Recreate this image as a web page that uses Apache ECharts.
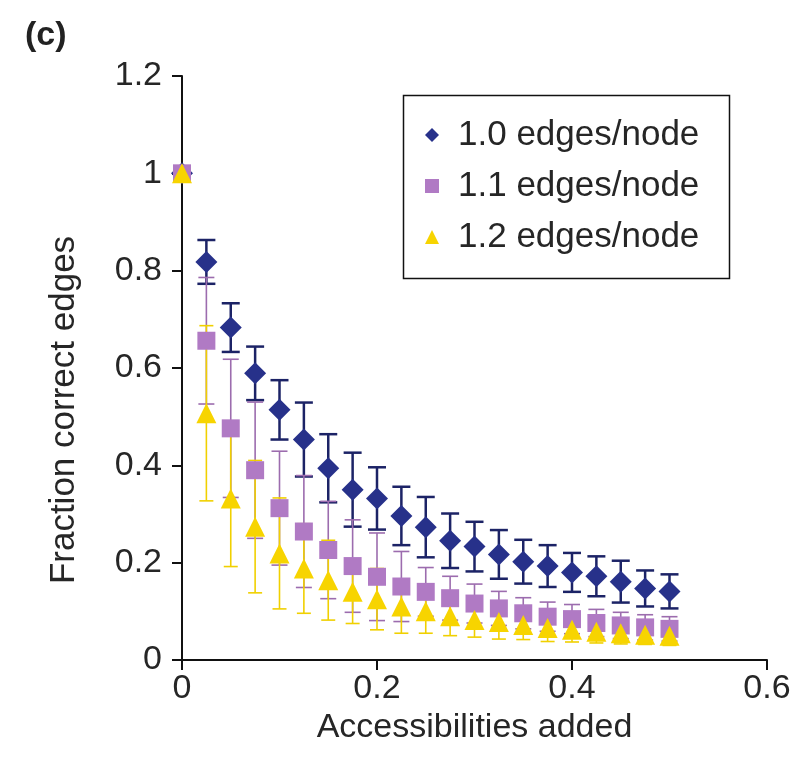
<!DOCTYPE html>
<html>
<head>
<meta charset="utf-8">
<script src="https://cdn.jsdelivr.net/npm/echarts@6/dist/echarts.min.js"></script>
<style>
  html, body { margin: 0; padding: 0; background: #fff; }
  #chart { width: 809px; height: 761px; }
</style>
</head>
<body>
<div id="chart"></div>
<script>
// accessibilities added (x)
var xValues = [0, 0.025, 0.05, 0.075, 0.1, 0.125, 0.15, 0.175, 0.2, 0.225, 0.25,
  0.275, 0.3, 0.325, 0.35, 0.375, 0.4, 0.425, 0.45, 0.475, 0.5]

// fraction correct edges, mean and error
var blueMean = [1.0, 0.818, 0.683, 0.589, 0.514, 0.453, 0.394, 0.35, 0.332, 0.296, 0.273,
  0.245, 0.233, 0.217, 0.202, 0.193, 0.18, 0.172, 0.161, 0.147, 0.141]
var blueErr = [0, 0.045, 0.05, 0.055, 0.061, 0.076, 0.07, 0.076, 0.064, 0.06, 0.062,
  0.056, 0.051, 0.05, 0.045, 0.043, 0.04, 0.041, 0.043, 0.037, 0.035]

var purpleMean = [1.0, 0.656, 0.476, 0.39, 0.312, 0.264, 0.226, 0.193, 0.171, 0.151, 0.14,
  0.127, 0.116, 0.106, 0.096, 0.089, 0.084, 0.076, 0.071, 0.067, 0.064]
var purpleErr = [0, 0.13, 0.142, 0.14, 0.117, 0.115, 0.1, 0.095, 0.09, 0.072, 0.05,
  0.045, 0.04, 0.035, 0.032, 0.03, 0.03, 0.028, 0.027, 0.026, 0.025]

var yellowMean = [1.0, 0.507, 0.332, 0.274, 0.219, 0.188, 0.164, 0.14, 0.125, 0.11, 0.1,
  0.09, 0.082, 0.078, 0.072, 0.066, 0.062, 0.058, 0.055, 0.052, 0.05]
var yellowErr = [0, 0.18, 0.14, 0.136, 0.114, 0.092, 0.082, 0.065, 0.063, 0.055, 0.045,
  0.04, 0.035, 0.035, 0.03, 0.028, 0.025, 0.023, 0.022, 0.02, 0.02]

var seriesNames = ['1.0 edges/node', '1.1 edges/node', '1.2 edges/node']
var xTickLabels = ['0', '0.2', '0.4', '0.6']
var yTickLabels = ['0', '0.2', '0.4', '0.6', '0.8', '1', '1.2']

var chart = echarts.init(document.getElementById('chart'))

function points (mean) {
  var out = []
  for (var i = 0; i < xValues.length; i++) out.push([xValues[i], mean[i]])
  return out
}

function bars (mean, err) {
  var out = []
  for (var i = 0; i < xValues.length; i++) {
    if (err[i] > 0) out.push([xValues[i], mean[i] - err[i], mean[i] + err[i]])
  }
  return out
}

function errorSeries (name, data, color, width, capHalf) {
  return {
    name: name,
    type: 'custom',
    data: data,
    silent: true,
    clip: false,
    encode: { x: 0, y: [1, 2] },
    renderItem: function (params, api) {
      var lo = api.coord([api.value(0), api.value(1)])
      var hi = api.coord([api.value(0), api.value(2)])
      var st = { stroke: color, lineWidth: width }
      return {
        type: 'group',
        children: [
          { type: 'line', shape: { x1: hi[0], y1: hi[1], x2: lo[0], y2: lo[1] }, style: st },
          { type: 'line', shape: { x1: hi[0] - capHalf, y1: hi[1], x2: hi[0] + capHalf, y2: hi[1] }, style: st },
          { type: 'line', shape: { x1: lo[0] - capHalf, y1: lo[1], x2: lo[0] + capHalf, y2: lo[1] }, style: st }
        ]
      }
    }
  }
}

var textColor = '#262626'

var option = {
  animation: false,
  backgroundColor: '#fff',
  title: {
    text: '(c)',
    left: 20,
    top: 14,
    textStyle: { fontFamily: 'Liberation Sans', fontWeight: 'bold', fontSize: 34, color: '#222' }
  },
  grid: { left: 182, right: 42, top: 76, bottom: 101 },
  legend: {
    orient: 'vertical',
    left: 401,
    top: 93,
    padding: [24, 10, 22, 24],
    itemWidth: 14,
    itemHeight: 14,
    itemGap: 15,
    data: seriesNames,
    textStyle: {
      fontFamily: 'Liberation Sans',
      fontSize: 35,
      lineHeight: 36,
      color: textColor,
      padding: [0, 0, 0, 14]
    }
  },
  graphic: [{
    type: 'rect',
    left: 401,
    top: 93,
    shape: { width: 326, height: 183 },
    style: { fill: 'none', stroke: '#111', lineWidth: 1.5 },
    silent: true
  }],
  xAxis: {
    type: 'value',
    min: 0,
    max: 0.6,
    interval: 0.2,
    name: 'Accessibilities added',
    nameLocation: 'middle',
    nameGap: 32,
    nameTextStyle: { fontFamily: 'Liberation Sans', fontSize: 34, color: textColor },
    axisLine: { lineStyle: { color: '#111', width: 2 } },
    axisTick: { length: 10, lineStyle: { color: '#111', width: 2 } },
    axisLabel: {
      margin: 12,
      fontFamily: 'Liberation Sans',
      fontSize: 34,
      color: textColor,
      formatter: function (v) { return xTickLabels[Math.round(v / 0.2)] }
    },
    splitLine: { show: false }
  },
  yAxis: {
    type: 'value',
    min: 0,
    max: 1.2,
    interval: 0.2,
    name: 'Fraction correct edges',
    nameLocation: 'middle',
    nameGap: 100,
    nameTextStyle: {
      fontFamily: 'Liberation Sans',
      fontSize: 35,
      color: textColor,
      padding: [0, 84, 0, 0]
    },
    axisLine: { show: true, lineStyle: { color: '#111', width: 2 } },
    axisTick: { show: true, length: 10, lineStyle: { color: '#111', width: 2 } },
    axisLabel: {
      margin: 20,
      fontFamily: 'Liberation Sans',
      fontSize: 34,
      color: textColor,
      formatter: function (v) { return yTickLabels[Math.round(v / 0.2)] }
    },
    splitLine: { show: false }
  },
  series: [
    errorSeries('err1', bars(blueMean, blueErr), '#1c2366', 2.5, 9),
    {
      name: seriesNames[0],
      type: 'scatter',
      symbol: 'diamond',
      symbolSize: 22,
      clip: false,
      itemStyle: { color: '#27318a', opacity: 1 },
      data: points(blueMean)
    },
    errorSeries('err2', bars(purpleMean, purpleErr), '#9c6cae', 1.6, 8),
    {
      name: seriesNames[1],
      type: 'scatter',
      symbol: 'rect',
      symbolSize: 18,
      clip: false,
      itemStyle: { color: '#b07ac4', opacity: 1 },
      data: points(purpleMean)
    },
    errorSeries('err3', bars(yellowMean, yellowErr), '#f0d000', 1.6, 7),
    {
      name: seriesNames[2],
      type: 'scatter',
      symbol: 'triangle',
      symbolSize: 20,
      clip: false,
      itemStyle: { color: '#f7d400', opacity: 1 },
      data: points(yellowMean)
    }
  ]
}

chart.setOption(option)
</script>
</body>
</html>
